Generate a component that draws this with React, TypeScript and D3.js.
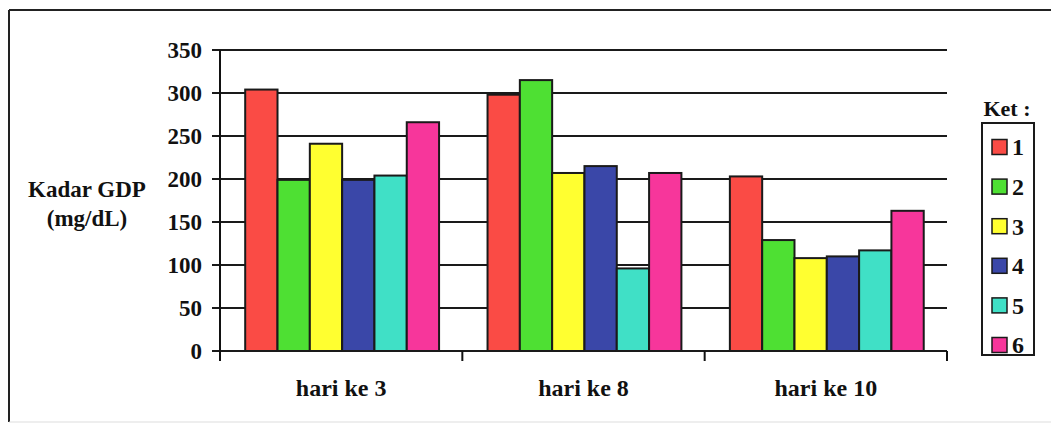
import React, { useEffect, useRef } from "react";
import * as d3 from "d3";

const categories = ["hari ke 3", "hari ke 8", "hari ke 10"];
const seriesNames = ["1", "2", "3", "4", "5", "6"];
const seriesColors = ["#fa4b45", "#4ee033", "#ffff30", "#3a47a8", "#40e0c6", "#f7369b"];
const values: number[][] = [
  [304, 298, 203],
  [199, 315, 129],
  [241, 207, 108],
  [199, 215, 110],
  [204, 96, 117],
  [266, 207, 163],
];
const yTicks = [0, 50, 100, 150, 200, 250, 300, 350];

const FAM = '"Liberation Serif", "Times New Roman", Tinos, FreeSerif, serif';

function T(props: { x: number; y: number; size: number; anchor?: string; dy?: string; children: React.ReactNode }) {
  return (
    <text
      className="lbl"
      x={props.x}
      y={props.y}
      dy={props.dy}
      textAnchor={props.anchor || "start"}
      fontSize={props.size}
      fill="#111"
      style={{ fontFamily: FAM, fontWeight: 700 }}
    >
      {props.children}
    </text>
  );
}

export default function App() {
  const ref = useRef<SVGSVGElement>(null);
  const W = 1051, H = 430;
  const left = 220, right = 947, top = 50, bottom = 351;
  const y = d3.scaleLinear().domain([0, 350]).range([bottom, top]);
  const x = d3.scaleBand<string>().domain(categories).range([left, right]).padding(0);
  const bw = x.bandwidth();
  const barW = bw / 7.5;
  const xs = d3.scaleBand<string>().domain(seriesNames).range([barW * 0.78, bw - barW * 0.72]).padding(0);
  const catEdges = [left, ...categories.map((c) => (x(c) as number) + bw)];

  useEffect(() => {
    if (!ref.current) return;
    d3.select(ref.current)
      .selectAll<SVGTextElement, unknown>("text.lbl")
      .each(function () {
        this.style.setProperty("font-family", FAM, "important");
        this.style.setProperty("font-weight", "700", "important");
      });
  }, []);

  return (
    <svg ref={ref} width={W} height={H} style={{ position: "absolute", left: 0, top: 0, background: "#fff", fontFamily: FAM }}>
      <line x1={9} y1={10} x2={W} y2={10} stroke="#222" strokeWidth={2} />
      <line x1={9} y1={10} x2={9} y2={422} stroke="#222" strokeWidth={2} />
      <line x1={9} y1={422} x2={W} y2={422} stroke="#ddd" strokeWidth={1} />

      {yTicks.map((t) => (
        <g key={t}>
          <line x1={212} x2={right} y1={y(t)} y2={y(t)} stroke="#1a1a1a" strokeWidth={2} />
          <T x={202} y={y(t)} dy="0.34em" anchor="end" size={23}>{t}</T>
        </g>
      ))}

      <line x1={left} x2={left} y1={top} y2={360} stroke="#111" strokeWidth={2} />
      {catEdges.map((e, i) => (
        <line key={i} x1={e} x2={e} y1={bottom} y2={361} stroke="#111" strokeWidth={2} />
      ))}

      {seriesNames.map((s, si) =>
        categories.map((c, ci) => {
          const v = values[si][ci];
          const bx = (x(c) as number) + (xs(s) as number);
          return (
            <rect
              key={s + c}
              x={bx}
              y={y(v)}
              width={xs.bandwidth()}
              height={y(0) - y(v)}
              fill={seriesColors[si]}
              stroke="#1a1a1a"
              strokeWidth={2}
            />
          );
        })
      )}

      {categories.map((c) => (
        <T key={c} x={(x(c) as number) + bw / 2} y={396} anchor="middle" size={24}>{c}</T>
      ))}

      <T x={87} y={197} anchor="middle" size={23}>Kadar GDP</T>
      <T x={87} y={226} anchor="middle" size={23}>(mg/dL)</T>

      <T x={1007} y={116} anchor="middle" size={22}>Ket :</T>
      <rect x={982} y={123} width={52} height={232} fill="none" stroke="#1a1a1a" strokeWidth={2} />
      {seriesNames.map((s, i) => {
        const cy = 147 + i * 39.6;
        return (
          <g key={s}>
            <rect x={992} y={cy - 7.5} width={15} height={15} fill={seriesColors[i]} stroke="#1a1a1a" strokeWidth={1.5} />
            <T x={1012} y={cy} dy="0.35em" size={24}>{s}</T>
          </g>
        );
      })}
    </svg>
  );
}
